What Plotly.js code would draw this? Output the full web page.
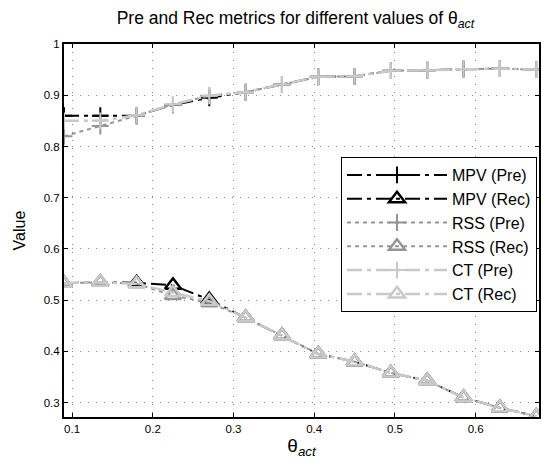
<!DOCTYPE html>
<html>
<head>
<meta charset="utf-8">
<script src="https://cdn.plot.ly/plotly-3.0.1.min.js"></script>
<style>html,body{margin:0;padding:0;background:#fff;}#chart{width:541px;height:472px;}</style>
</head>
<body>
<div id="chart"></div>
<script>
var theta = [0.09,0.135,0.18,0.225,0.27,0.315,0.36,0.405,0.45,0.495,0.54,0.585,0.63,0.675];
var mpvPre = [0.860,0.860,0.860,0.881,0.895,0.906,0.921,0.936,0.937,0.948,0.949,0.951,0.952,0.950];
var rssPre = [0.820,0.840,0.860,0.882,0.899,0.906,0.921,0.936,0.937,0.948,0.949,0.951,0.952,0.950];
var ctPre  = [0.850,0.850,0.861,0.882,0.899,0.906,0.921,0.936,0.937,0.948,0.949,0.951,0.952,0.950];
var mpvRec = [0.533,0.535,0.534,0.529,0.501,0.466,0.431,0.395,0.380,0.358,0.343,0.310,0.290,0.2735];
var rssRec = [0.533,0.535,0.532,0.509,0.495,0.466,0.431,0.395,0.380,0.358,0.343,0.310,0.290,0.2735];
var ctRec  = [0.533,0.535,0.532,0.515,0.498,0.466,0.431,0.395,0.380,0.358,0.343,0.310,0.290,0.2735];
var names = ['MPV (Pre)','MPV (Rec)','RSS (Pre)','RSS (Rec)','CT (Pre)','CT (Rec)'];
var xTicks = [0.1,0.2,0.3,0.4,0.5,0.6];
var xTickText = ['0.1','0.2','0.3','0.4','0.5','0.6'];
var yTicks = [0.3,0.4,0.5,0.6,0.7,0.8,0.9,1];
var yTickText = ['0.3','0.4','0.5','0.6','0.7','0.8','0.9','1'];

var FONT = 'Liberation Sans, Arial, Helvetica, sans-serif';
var black = '#000000', mid = '#959595', light = '#c9c9c9';
var dashDot = '15px,5px,4px,5px';

function tr(y, name, color, width, dash, symbol, msize, mlw) {
  return {
    x: theta, y: y, name: name, type: 'scatter', mode: 'lines+markers',
    line: {color: color, width: width, dash: dash},
    marker: {symbol: symbol, size: msize, color: color, line: {color: color, width: mlw}}
  };
}
var data = [
  tr(mpvPre, names[0], black, 2, dashDot, 'cross-thin-open', 12, 2),
  tr(mpvRec, names[1], black, 2, dashDot, 'triangle-up-open', 14, 2.5),
  tr(rssPre, names[2], mid, 2, '4px,4px', 'cross-thin-open', 12, 2),
  tr(rssRec, names[3], mid, 2, '4px,4px', 'triangle-up-open', 14, 2.5),
  tr(ctPre, names[4], light, 2.5, dashDot, 'cross-thin-open', 12, 2),
  tr(ctRec, names[5], light, 2.5, dashDot, 'triangle-up-open', 14, 2.5)
];

var axisCommon = {
  showline: true, linecolor: '#000', linewidth: 2, mirror: 'ticks',
  ticks: 'inside', ticklen: 4, tickcolor: '#000', tickwidth: 1,
  showgrid: true, gridcolor: '#8a8a8a', gridwidth: 1, griddash: '1px,7px',
  zeroline: false, tickfont: {family: FONT, size: 11.5, color: '#000'}
};

var layout = {
  width: 541, height: 472,
  margin: {l: 64, r: 2, t: 44, b: 55},
  paper_bgcolor: '#fff', plot_bgcolor: '#fff',
  font: {family: FONT, color: '#000'},
  title: {text: 'Pre and Rec metrics for different values of θ<sub><i>act</i></sub>',
          font: {family: FONT, size: 17.5, color: '#000'}, x: 0.546, xanchor: 'center', y: 0.962, yanchor: 'middle'},
  xaxis: Object.assign({}, axisCommon, {
    range: [0.09, 0.6785], tickvals: xTicks, ticktext: xTickText,
    title: {text: 'θ<sub><i>act</i></sub>', font: {family: FONT, size: 19, color: '#000'}, standoff: 4}
  }),
  yaxis: Object.assign({}, axisCommon, {
    range: [0.272, 1], tickvals: yTicks, ticktext: yTickText,
    title: {text: 'Value', font: {family: FONT, size: 16, color: '#000'}, standoff: 14}
  }),
  showlegend: true,
  legend: {
    x: 0.9958, xanchor: 'right', y: 0.697, yanchor: 'top',
    bgcolor: '#fff', bordercolor: '#000', borderwidth: 1,
    font: {family: FONT, size: 16, color: '#000'},
    itemwidth: 100
  }
};
Plotly.newPlot('chart', data, layout, {displayModeBar: false, staticPlot: true});
</script>
</body>
</html>
